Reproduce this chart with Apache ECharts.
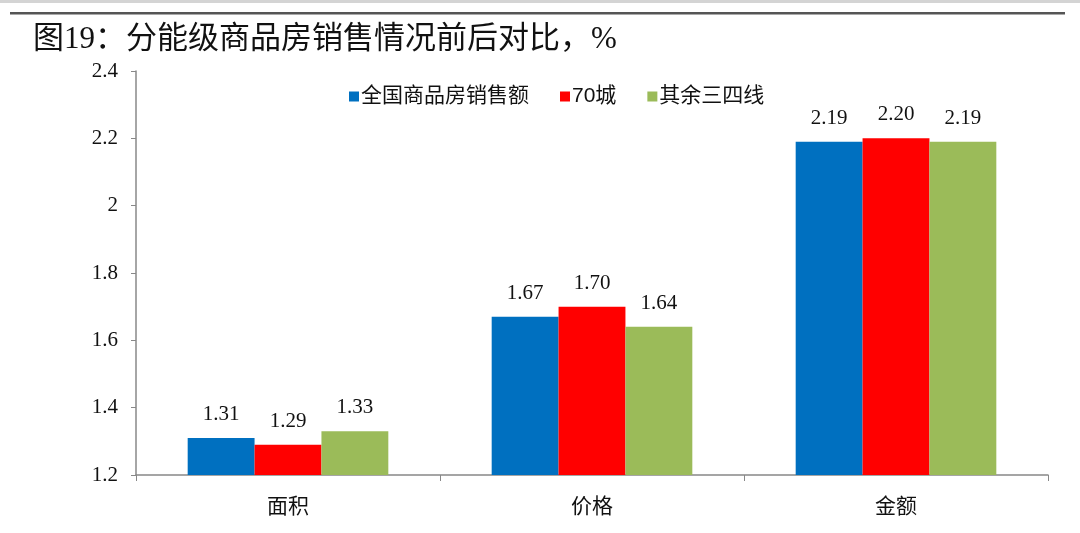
<!DOCTYPE html>
<html>
<head>
<meta charset="utf-8">
<script src="https://cdn.jsdelivr.net/npm/echarts@6/dist/echarts.min.js"></script>
<style>
  html, body { margin: 0; padding: 0; background: #fff; }
  #chart { width: 1080px; height: 533px; }
</style>
</head>
<body>
<div id="chart"></div>
<script>
    var categories = ['面积', '价格', '金额'];
    var seriesNames = ['全国商品房销售额', '70城', '其余三四线'];
    var nationalValues = [1.31, 1.67, 2.19];
    var city70Values = [1.29, 1.70, 2.20];
    var otherValues = [1.33, 1.64, 2.19];
    var colors = ['#0070C0', '#FF0000', '#9BBB59'];

    var serifFont = '"Liberation Serif", "Noto Sans CJK SC", serif';
    var sansFont = '"Liberation Sans", "Noto Sans CJK SC", sans-serif';

    var myChart = echarts.init(document.getElementById('chart'));

    function makeSeries(name, values, color) {
        return {
            name: name,
            type: 'bar',
            data: values,
            barGap: '0%',
            barCategoryGap: '34%',
            itemStyle: { color: color },
            label: {
                show: true,
                position: 'top',
                distance: 13,
                color: '#111',
                fontFamily: serifFont,
                fontSize: 21,
                formatter: function (p) { return p.value.toFixed(2); }
            }
        };
    }

    option = {
        animation: false,
        backgroundColor: '#fff',
        graphic: [
            // gray strip along the very top of the screenshot
            { type: 'rect', shape: { x: 0, y: 0, width: 1080, height: 3 }, style: { fill: '#d4d4d4' } },
            { type: 'rect', shape: { x: 10, y: 12, width: 1055, height: 2.5 }, style: { fill: '#555' } }
        ],
        title: {
            text: '图19：分能级商品房销售情况前后对比，%',
            left: 28,
            top: 19,
            textStyle: {
                fontFamily: serifFont,
                fontSize: 31,
                fontWeight: 'normal',
                color: '#111'
            }
        },
        legend: {
            data: seriesNames,
            left: 344,
            top: 81,
            itemWidth: 10,
            itemHeight: 10,
            itemGap: 31,
            icon: 'rect',
            textStyle: {
                fontFamily: sansFont,
                fontSize: 21,
                color: '#111',
                padding: [0, 0, 0, -3]
            }
        },
        grid: {
            left: 136,
            right: 32,
            top: 71,
            bottom: 58,
            containLabel: false
        },
        xAxis: {
            type: 'category',
            data: categories,
            axisLine: { lineStyle: { color: '#888', width: 1.5 } },
            axisTick: { show: true, length: 6, lineStyle: { color: '#888' } },
            axisLabel: {
                margin: 22,
                fontFamily: sansFont,
                fontSize: 21,
                color: '#111'
            }
        },
        yAxis: {
            type: 'value',
            min: 1.2,
            max: 2.4,
            interval: 0.2,
            axisLine: { show: true, lineStyle: { color: '#888', width: 1.5 } },
            axisTick: { show: true, length: 5, lineStyle: { color: '#888' } },
            splitLine: { show: false },
            axisLabel: {
                margin: 18,
                fontFamily: serifFont,
                fontSize: 21,
                color: '#111',
                formatter: function (v) { return String(Math.round(v * 10) / 10); }
            }
        },
        series: [
            makeSeries(seriesNames[0], nationalValues, colors[0]),
            makeSeries(seriesNames[1], city70Values, colors[1]),
            makeSeries(seriesNames[2], otherValues, colors[2])
        ]
    };

    myChart.setOption(option);
</script>
</body>
</html>
